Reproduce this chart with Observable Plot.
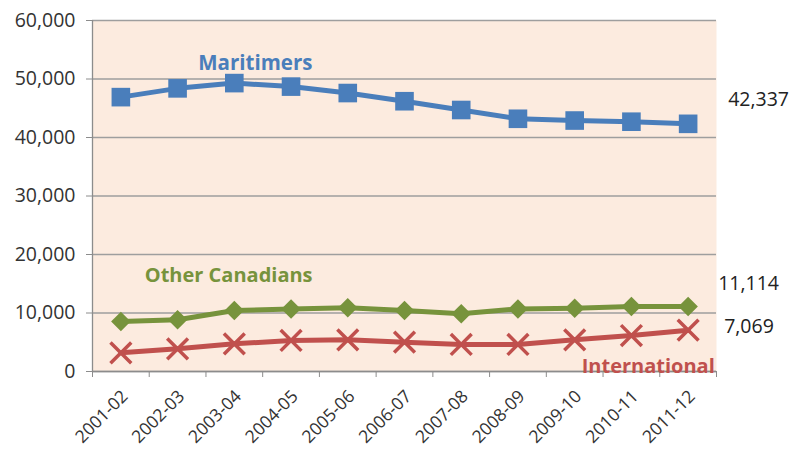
<!DOCTYPE html>
<html>
<head>
<meta charset="utf-8">
<script src="https://cdn.jsdelivr.net/npm/d3@7"></script>
<script src="https://cdn.jsdelivr.net/npm/@observablehq/plot@0.6"></script>
<style>
  html, body { margin: 0; padding: 0; background: #fff; }
  #chart svg { display: block; }
</style>
</head>
<body>
<div id="chart"></div>
<script>
const years = ["2001-02","2002-03","2003-04","2004-05","2005-06","2006-07","2007-08","2008-09","2009-10","2010-11","2011-12"];
const maritimers = [46900, 48400, 49300, 48700, 47600, 46200, 44700, 43200, 42900, 42700, 42337];
const otherCanadians = [8550, 8850, 10430, 10700, 10880, 10430, 9860, 10700, 10830, 11100, 11114];
const international = [3190, 3880, 4730, 5300, 5410, 5010, 4620, 4620, 5410, 6150, 7069];
const yTicks = [0, 10000, 20000, 30000, 40000, 50000, 60000];

const idx = years.map((_, i) => i);
const rows = (vals) => vals.map((v, i) => ({i, v}));
const blue = "#4A7EBB", green = "#77933C", red = "#C0504D";
const font = "'Open Sans', Lato, sans-serif";
const last = years.length - 1;
const fmt = d3.format(",");

const chart = Plot.plot({
  width: 792,
  height: 449,
  marginLeft: 92,
  marginRight: 76,
  marginTop: 20,
  marginBottom: 78,
  style: {fontFamily: font, fontSize: "17px", color: "#333", background: "#fff"},
  x: {type: "linear", domain: [-0.5, years.length - 0.5]},
  y: {domain: [0, 60000]},
  marks: [
    Plot.frame({fill: "#FCEBDF", stroke: null}),
    Plot.gridY(yTicks, {stroke: "#9E9E9E", strokeOpacity: 1, strokeWidth: 1.3}),
    Plot.ruleX([-0.5], {stroke: "#8C8C8C", strokeWidth: 1.3}),
    Plot.axisY(yTicks, {tickFormat: fmt, tickSize: 6, tickPadding: 11, stroke: "#8C8C8C", fontSize: 19.5, fill: "#333", label: null}),
    Plot.axisX(d3.range(-0.5, years.length, 1), {tickFormat: () => "", tickSize: 6, stroke: "#8C8C8C", label: null}),
    Plot.axisX(idx, {tickFormat: (i) => years[i], tickSize: 0, tickPadding: 22, dx: 4, tickRotate: -45, fontSize: 17.5, fill: "#333", label: null}),
    Plot.ruleY([0], {stroke: "#8C8C8C", strokeWidth: 1.3}),

    Plot.line(rows(maritimers), {x: "i", y: "v", stroke: blue, strokeWidth: 5}),
    Plot.dot(rows(maritimers), {x: "i", y: "v", symbol: "square", r: 10.5, fill: blue, stroke: null}),

    Plot.line(rows(otherCanadians), {x: "i", y: "v", stroke: green, strokeWidth: 5}),
    Plot.dot(rows(otherCanadians), {x: "i", y: "v", symbol: "diamond2", r: 8.8, fill: green, stroke: null}),

    Plot.line(rows(international), {x: "i", y: "v", stroke: red, strokeWidth: 5}),
    Plot.dot(rows(international), {x: "i", y: "v", symbol: "times", r: 9.5, stroke: red, strokeWidth: 3.5}),

    Plot.text(["Maritimers"], {x: 2.37, y: 52650, text: (d) => d, fill: blue, fontWeight: "bold", fontSize: 20.5}),
    Plot.text(["Other Canadians"], {x: 1.9, y: 16400, text: (d) => d, fill: green, fontWeight: "bold", fontSize: 20}),
    Plot.text(["International"], {x: 10.47, y: 900, text: (d) => d, fill: red, fontWeight: "bold", fontSize: 20, textAnchor: "end"}),

    Plot.text([maritimers[last]], {x: last, y: (d) => d, text: fmt, dx: 40, dy: -24, textAnchor: "start", fill: "#222", fontSize: 19.5}),
    Plot.text([otherCanadians[last]], {x: last, y: (d) => d, text: fmt, dx: 30, dy: -23, textAnchor: "start", fill: "#222", fontSize: 19.5}),
    Plot.text([international[last]], {x: last, y: (d) => d, text: fmt, dx: 36, dy: -3, textAnchor: "start", fill: "#222", fontSize: 19.5})
  ]
});
document.getElementById("chart").append(chart);
</script>
</body>
</html>
